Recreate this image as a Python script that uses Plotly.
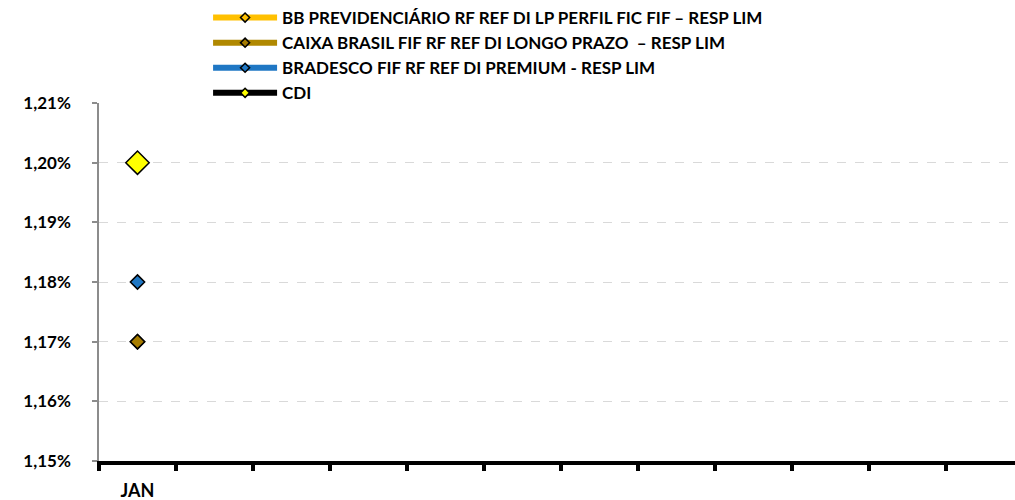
import plotly.graph_objects as go

months = ["JAN", "FEV", "MAR", "ABR", "MAI", "JUN", "JUL", "AGO", "SET", "OUT", "NOV", "DEZ"]
tick_labels = ["JAN", "", "", "", "", "", "", "", "", "", "", ""]

series_names = [
    "BB PREVIDENCIÁRIO RF REF DI LP PERFIL FIC FIF – RESP LIM",
    "CAIXA BRASIL FIF RF REF DI LONGO PRAZO  – RESP LIM",
    "BRADESCO FIF RF REF DI PREMIUM - RESP LIM",
    "CDI",
]
bb_values = [1.17] + [None] * 11
caixa_values = [1.17] + [None] * 11
bradesco_values = [1.18] + [None] * 11
cdi_values = [1.20] + [None] * 11

y_ticks = [1.15, 1.16, 1.17, 1.18, 1.19, 1.20, 1.21]
y_tick_labels = ["1,15%", "1,16%", "1,17%", "1,18%", "1,19%", "1,20%", "1,21%"]

line_colors = ["#FFC000", "#B08800", "#1F77C4", "#000000"]
marker_colors = ["#FFC000", "#A67C00", "#1F77C4", "#FFFF00"]
marker_sizes = [11, 11, 11, 18]
all_values = [bb_values, caixa_values, bradesco_values, cdi_values]

fig = go.Figure()
for name, vals, lc, mc, ms in zip(series_names, all_values, line_colors, marker_colors, marker_sizes):
    fig.add_trace(go.Scatter(
        x=months, y=vals, mode="lines+markers", name=name, showlegend=False,
        line=dict(color=lc, width=4),
        marker=dict(symbol="diamond", size=ms, color=mc, line=dict(color="#000000", width=1.5)),
        hovertemplate="%{y:.2f}%<extra>" + name + "</extra>",
    ))
# legend entries
for name, lc, mc in zip(series_names, line_colors, marker_colors):
    fig.add_trace(go.Scatter(
        x=[None], y=[None], mode="lines+markers", name=name,
        line=dict(color=lc, width=6),
        marker=dict(symbol="diamond", size=7, color=mc, line=dict(color="#000000", width=1.5)),
    ))

font_family = "Lato, 'Open Sans', Arial, sans-serif"

fig.update_layout(
    width=1015, height=500,
    margin=dict(l=99, r=0, t=103, b=39, autoexpand=False),
    plot_bgcolor="white", paper_bgcolor="white",
    separators=",.",
    font=dict(family=font_family, color="#000000", size=16, weight="bold"),
    showlegend=True,
    legend=dict(
        xref="container", yref="container",
        x=0.205, y=1.004, xanchor="left", yanchor="top",
        font=dict(size=17, family=font_family, weight="bold"),
        tracegroupgap=0, itemwidth=64,
        bgcolor="rgba(0,0,0,0)",
    ),
    xaxis=dict(
        type="category", categoryorder="array", categoryarray=months,
        tickmode="array", tickvals=months, ticktext=tick_labels,
        range=[-0.5, 11.396], tickangle=0,
        showline=True, linecolor="#000000", linewidth=4,
        ticks="outside", tickson="boundaries", ticklen=6, tickwidth=4, tickcolor="#000000",
        showgrid=False, zeroline=False,
        tickfont=dict(size=18, weight="bold"),
        ticklabelstandoff=10,
    ),
    yaxis=dict(
        range=[1.15, 1.21],
        tickmode="array", tickvals=y_ticks, ticktext=y_tick_labels,
        showline=True, linecolor="#8C8C8C", linewidth=1.5,
        ticks="outside", ticklen=5, tickwidth=1.5, tickcolor="#8C8C8C",
        showgrid=True, gridcolor="#D9D9D9", griddash="dash", gridwidth=1,
        zeroline=False,
        tickfont=dict(size=17, weight="bold"),
        ticklabelstandoff=18,
    ),
)

fig.write_html(
    "out.html",
    config={"displayModeBar": False},
    post_script="document.body.style.margin='0';document.body.style.overflow='hidden';",
)
